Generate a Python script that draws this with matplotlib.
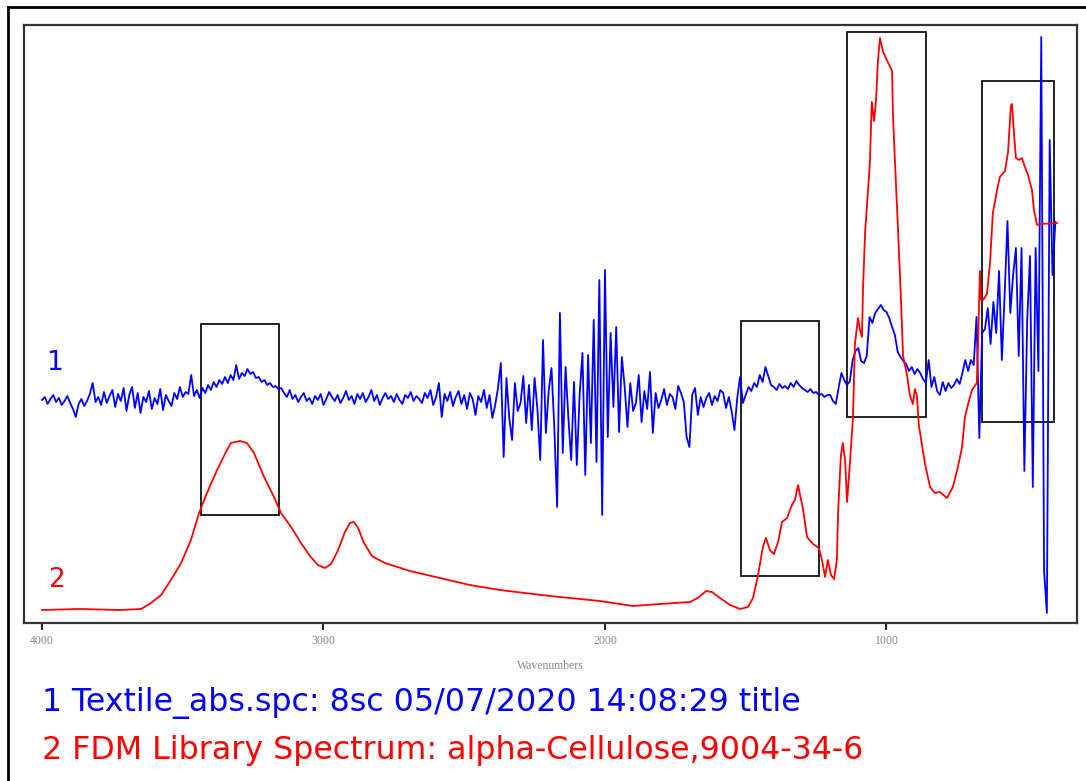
import numpy as np
import matplotlib
matplotlib.use("Agg")
import matplotlib.pyplot as plt
from matplotlib.patches import Rectangle
from matplotlib.lines import Line2D

# ---------------- data ----------------
# Sample 1 (Textile_abs.spc): absorbance (arbitrary units), 4000 -> 400 cm-1, step 10 cm-1
blue_start, blue_stop, blue_step = 4000, 400, -10
blue_values = [
    223, 226, 219, 224, 228, 221, 225, 218, 222, 227,
    220, 214, 206, 219, 224, 217, 222, 229, 240, 221,
    226, 218, 231, 220, 227, 233, 216, 229, 222, 235,
    212, 228, 236, 215, 230, 210, 226, 221, 232, 214,
    225, 219, 234, 213, 228, 222, 217, 230, 224, 236,
    226, 231, 229, 248, 227, 233, 225,
    235, 230, 238, 233, 241, 236, 243, 239, 246, 240,
    248, 243, 258, 244, 250, 247, 254, 249, 251, 245,
    246, 241, 243, 238, 240, 236, 237, 234, 235,
    230, 226, 233, 224, 228, 221, 226, 230, 222, 225,
    219, 227, 223, 229, 218, 224, 231, 226, 222, 228,
    220, 225, 232, 223, 227, 219, 229, 224, 230, 221,
    226, 233, 222, 228, 218, 225, 230, 224, 227, 221,
    229, 223, 219, 228, 225, 231, 222, 227, 224, 220,
    230, 225, 233, 218, 226, 240, 206, 229, 222, 231,
    217, 226, 232, 219, 228, 214, 230, 224, 208, 227,
    221, 233, 215, 228, 205,
    218, 235, 260, 166, 245, 205, 183, 240, 212, 220,
    247, 200, 238, 193, 245, 214, 163, 283, 190, 232,
    255, 196, 116, 310, 170, 256, 205, 163, 241, 158,
    228, 270, 148, 268, 180, 303, 161, 343, 108, 353,
    186, 290, 216, 296, 191, 266, 236, 196, 240, 212,
    220, 248, 201, 232, 214, 251, 190, 230, 215, 223,
    234, 218, 229, 226, 214, 237, 230, 221, 186, 176,
    228, 235, 208, 226,
    216, 225, 230, 218, 227, 222, 233, 230, 215, 226,
    212, 193, 225, 246, 220, 228, 236, 232, 240, 236,
    248, 241, 256, 247, 238, 236, 233, 239, 235, 237,
    234, 240, 236, 242, 238, 235, 233, 231, 234, 230,
    231, 228, 229, 226, 228,
    228, 222, 219, 235, 250, 243, 238, 242, 263, 272,
    275, 262, 260, 267, 306, 300, 310, 314, 318, 313,
    311, 305, 296, 288, 271, 266, 262, 259, 252, 256,
    249, 254, 250, 244, 240, 263, 236, 246, 232, 228,
    241, 232, 240, 235, 238, 244, 239, 250, 263, 252,
    263, 258,
    306, 185, 290, 294, 315, 279, 321, 290, 352, 263,
    329, 402, 310, 348, 375, 267, 375, 152, 302, 367,
    136, 375, 252, 586, 52, 10, 483, 348, 401,
]

# Sample 2 (FDM Library: alpha-Cellulose)
red_wavenumbers = [
    4000, 3865, 3723, 3648, 3613, 3577, 3542, 3506, 3471, 3442,
    3414, 3378, 3343, 3329, 3297, 3272, 3247, 3211, 3176, 3151,
    3115, 3080, 3048, 3020, 2995, 2973, 2948, 2924, 2906, 2892,
    2877, 2856, 2828, 2782, 2693, 2586, 2480, 2373, 2195, 2018,
    1901, 1805, 1698, 1670, 1641, 1620, 1591, 1556, 1520, 1492,
    1474, 1456, 1439, 1428, 1414, 1400, 1385, 1371, 1353, 1336,
    1325, 1314, 1307, 1297, 1282, 1261, 1240, 1229, 1218, 1208,
    1197, 1186, 1176, 1172, 1162, 1155, 1147, 1140, 1130, 1119,
    1112, 1101, 1094, 1087, 1083, 1076, 1059, 1052, 1044, 1037,
    1030, 1023, 1012, 995, 980, 977, 970, 959, 948, 941,
    927, 917, 906, 899, 892, 885, 863, 845, 828, 810,
    785, 764, 746, 732, 721, 710, 696, 679, 675, 668,
    664, 657, 643, 632, 622, 607, 597, 579, 568, 558,
    554, 547, 540, 529, 519, 508, 497, 483, 476, 465,
    455, 394,
]
red_values = [
    13, 14, 13, 14, 20, 28, 43, 60, 83, 110,
    130, 153, 173, 180, 182, 180, 170, 146, 126, 110,
    96, 80, 67, 58, 55, 59, 73, 91, 100, 101,
    95, 80, 67, 60, 52, 45, 38, 33, 27, 22,
    17, 19, 21, 25, 32, 31, 25, 18, 14, 16,
    25, 48, 76, 85, 73, 69, 81, 101, 105, 118,
    123, 138, 128, 115, 86, 79, 75, 63, 46, 63,
    48, 44, 63, 109, 167, 180, 163, 121, 159, 205,
    279, 305, 293, 286, 336, 390, 459, 521, 502, 523,
    563, 585, 571, 561, 552, 510, 463, 394, 321, 267,
    248, 228, 219, 234, 228, 198, 159, 136, 130, 131,
    125, 136, 156, 175, 206, 219, 233, 240, 275, 352,
    323, 323, 329, 360, 410, 433, 446, 452, 471, 517,
    519, 490, 465, 463, 465, 456, 448, 433, 413, 398,
    399, 400,
]

# highlighted regions: (wavenumber high, wavenumber low, intensity low, intensity high)
box_regions = [
    (3435, 3158, 108, 299),
    (1517, 1240, 47, 302),
    (1140, 860, 206, 591),
    (661, 405, 201, 542),
]

x_ticks = [4000, 3000, 2000, 1000]
x_label = "Wavenumbers"
legend_1 = "1 Textile_abs.spc: 8sc 05/07/2020 14:08:29 title"
legend_2 = "2 FDM Library Spectrum: alpha-Cellulose,9004-34-6"

# ---------------- plot ----------------
W, H = 1086, 781
fig = plt.figure(figsize=(W / 100, H / 100), dpi=100)
fig.patch.set_facecolor("white")

ax = fig.add_axes([24 / W, 1 - 623 / H, (1077 - 24) / W, (623 - 25) / H])

blue_x = np.arange(blue_start, blue_stop + blue_step, blue_step)
ax.plot(blue_x, blue_values, color="#0000FF", lw=1.3)
ax.plot(red_wavenumbers, red_values, color="#FF0000", lw=1.3)

for w_hi, w_lo, i_lo, i_hi in box_regions:
    ax.add_patch(Rectangle((w_lo, i_lo), w_hi - w_lo, i_hi - i_lo,
                           fill=False, edgecolor="#111111", lw=1.3))

ax.text(3954, 260, "1", color="#0000FF", fontsize=19, ha="center", va="center",
        family="DejaVu Sans")
ax.text(3947, 43, "2", color="#FF0000", fontsize=19, ha="center", va="center",
        family="DejaVu Sans")

ax.set_xlim(4064, 323)
ax.set_ylim(0, 598)
ax.set_yticks([])
ax.set_xticks(x_ticks)
ax.set_xticklabels([str(t) for t in x_ticks], fontsize=8.5, color="#888888",
                   family="Liberation Serif")
ax.tick_params(axis="x", direction="out", length=5, width=1.4, color="#222222", pad=4)
ax.set_xlabel(x_label, fontsize=8.5, color="#888888", family="Liberation Serif",
              labelpad=9)
for sp in ax.spines.values():
    sp.set_color("#333333")
    sp.set_linewidth(1.6)

# outer frame (left and top edges visible)
fig.add_artist(Line2D([8 / W, 8 / W], [0, 1 - 7 / H], transform=fig.transFigure,
                      color="black", lw=2))
fig.add_artist(Line2D([8 / W, 1], [1 - 7 / H, 1 - 7 / H], transform=fig.transFigure,
                      color="black", lw=2))

fig.text(42 / W, 1 - 703 / H, legend_1, color="#0000FF", fontsize=22.8,
         ha="left", va="center", family="DejaVu Sans")
fig.text(42 / W, 1 - 750 / H, legend_2, color="#FF0000", fontsize=22.8,
         ha="left", va="center", family="DejaVu Sans")

fig.savefig("out.png", dpi=100, facecolor="white")
